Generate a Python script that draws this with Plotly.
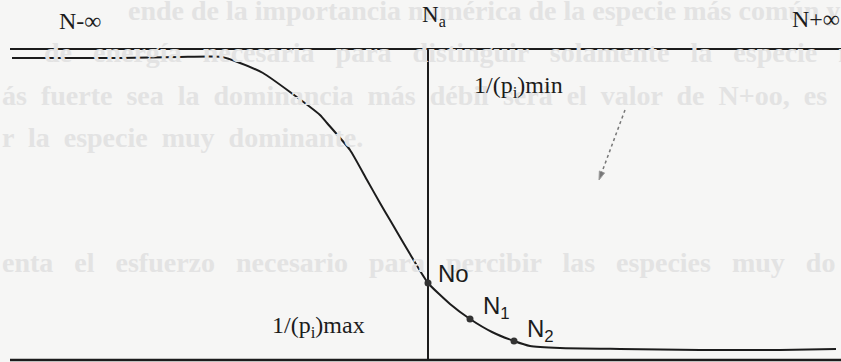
import plotly.graph_objects as go

# Curve (x: horizontal position, y: height above baseline)
curve_x = [12, 60, 120, 180, 222, 240, 263, 290, 320, 327, 350, 367, 380, 390, 397,
           410, 428, 450, 470, 492, 514, 530, 560, 620, 700, 780, 836]
curve_y = [304, 304, 304, 305, 305, 299, 289, 270, 247, 239, 212, 182, 159, 142, 130,
           108, 79, 58, 43, 30, 21, 16, 14, 13, 12, 12, 13]

# Reference lines
top_x = [10, 841]
top_y = [313, 313]
bottom_x = [10, 841]
bottom_y = [2, 2]
na_x = [428, 428]
na_y = [2, 313]

# Marked points
point_names = ["No", "N<sub>1</sub>", "N<sub>2</sub>"]
point_x = [428, 470, 514]
point_y = [79, 43, 21]

# Pen mark (dotted stroke ending in an arrowhead)
mark_x = [625, 599]
mark_y = [252, 182]

# Faint bleed-through text from the scanned page
ghost_lines = [
    "ende de la importancia numérica de la especie más común y de la",
    "de energía necesaria para distinguir solamente la especie m",
    "ás fuerte sea la dominancia más débil será el valor de N+oo, es",
    "r la especie muy dominante.",
    "enta el esfuerzo necesario para percibir las especies muy do",
]
ghost_x = [126, 42, 0, 0, 0]
ghost_y = [352, 310, 267, 225, 100]
ghost_extra_space = [0, 2, 1, 1, 2]

ink = "#1c1c1c"
fig = go.Figure()

for t, gx, gy, k in zip(ghost_lines, ghost_x, ghost_y, ghost_extra_space):
    shown = t.replace(" ", " " + "\u00a0" * k)
    fig.add_annotation(x=gx, y=gy, text="<b>" + shown + "</b>", showarrow=False,
                       xanchor="left", yanchor="middle",
                       font=dict(family="Liberation Serif", size=28, color="#e3e3e3"))

fig.add_trace(go.Scatter(x=top_x, y=top_y, mode="lines", line=dict(color=ink, width=2), hoverinfo="skip"))
fig.add_trace(go.Scatter(x=bottom_x, y=bottom_y, mode="lines", line=dict(color=ink, width=2.5), hoverinfo="skip"))
fig.add_trace(go.Scatter(x=na_x, y=na_y, mode="lines", line=dict(color=ink, width=2), hoverinfo="skip"))
fig.add_trace(go.Scatter(x=curve_x, y=curve_y, mode="lines",
                         line=dict(color=ink, width=2, shape="spline", smoothing=0.5), hoverinfo="skip"))
fig.add_trace(go.Scatter(x=point_x, y=point_y, mode="markers", marker=dict(color="#333333", size=7), hoverinfo="skip"))
fig.add_trace(go.Scatter(x=mark_x, y=mark_y, mode="lines+markers",
                         line=dict(color="#777777", width=1.5, dash="dot"),
                         marker=dict(symbol="arrow", size=[0, 9], angleref="previous", color="#444444"),
                         hoverinfo="skip"))

serif = dict(family="Liberation Serif", size=24, color=ink)
sans = dict(family="Liberation Sans", size=24, color=ink)

fig.add_annotation(x=57, y=341, text="N-∞", showarrow=False, xanchor="left", font=serif)
fig.add_annotation(x=420, y=346, text="N<sub>a</sub>", showarrow=False, xanchor="left", font=dict(family="Liberation Serif", size=23, color=ink))
fig.add_annotation(x=790, y=343, text="N+∞", showarrow=False, xanchor="left", font=serif)
fig.add_annotation(x=472, y=275, text="1/(p<sub>i</sub>)min", showarrow=False, xanchor="left", font=serif)
fig.add_annotation(x=270, y=35, text="1/(p<sub>i</sub>)max", showarrow=False, xanchor="left", font=serif)

label_dx = [8, 11, 11]
label_dy = [-6, -6, -7]
for n, px, py, dx, dy in zip(point_names, point_x, point_y, label_dx, label_dy):
    fig.add_annotation(x=px + dx, y=py + dy, text=n, showarrow=False, xanchor="left", yanchor="bottom", font=sans)

fig.update_layout(
    width=841, height=362,
    margin=dict(l=0, r=0, t=0, b=0),
    paper_bgcolor="#f6f6f5", plot_bgcolor="#f6f6f5",
    showlegend=False,
    xaxis=dict(range=[0, 841], visible=False, fixedrange=True),
    yaxis=dict(range=[0, 362], visible=False, fixedrange=True),
)

fig.write_html("out.html", config={"displayModeBar": False},
               post_script="document.body.style.margin='0';document.body.style.padding='0';")
